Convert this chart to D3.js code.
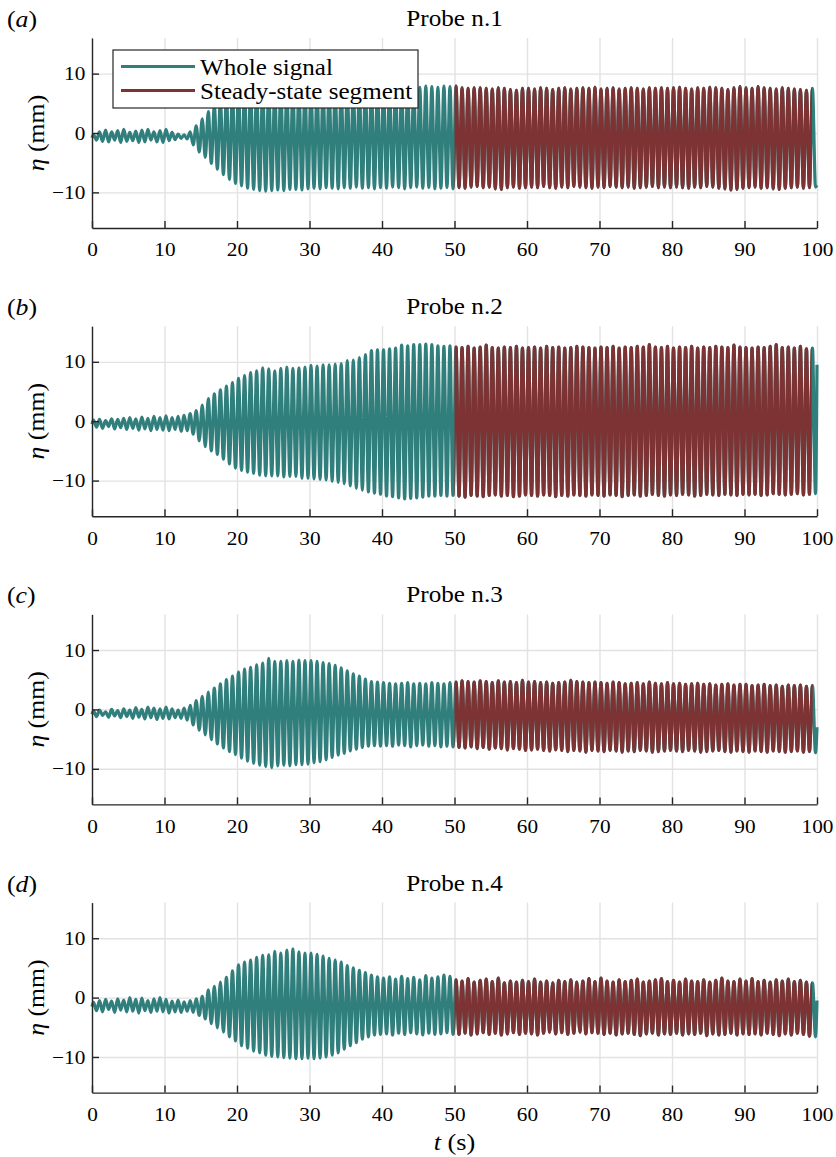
<!DOCTYPE html>
<html>
<head>
<meta charset="utf-8">
<script src="https://cdn.jsdelivr.net/npm/d3@7/dist/d3.min.js"></script>
<style>
  html, body { margin: 0; padding: 0; background: #ffffff; }
  svg { display: block; }
  text { font-family: "Liberation Serif", "Times New Roman", Times, serif; fill: #000; }
</style>
</head>
<body>
<svg id="fig" width="836" height="1157"></svg>
<script>
// ---- data -------------------------------------------------------------
// Free-surface elevation eta (mm) at four probes, stored as the crest and
// trough value of every wave cycle (12 cycles per 10 s row, 0..100 s).
const cyclePeriod = 100 / 120;           // s
const timeDomain = [0, 100];
const etaDomain = [-16, 16];
const xTicks = [0, 10, 20, 30, 40, 50, 60, 70, 80, 90, 100];
const yTicks = [-10, 0, 10];
const panelLetters = ["a", "b", "c", "d"];
const panelTitles = ["Probe n.1", "Probe n.2", "Probe n.3", "Probe n.4"];
const legendLabels = ["Whole signal", "Steady-state segment"];
const steadyStart = [50, 50, 50, 50];
const steadyEnd = [99.3, 99.25, 99.4, 99.3];
const startValues = [-0.8, -0.5, -0.8, -1.5];
const endValues = [-8.8, 9.5, -3.0, -0.5];

const probe1Crests = [
  -0.3, 0.2, 0.5, 0.2, 0.4, 0.6, 0.1, 0.3, 0.5, 0.6, 0.2, 0.4,
  0.6, 0.1, -0.2, -0.3, 0.2, 1.2, 2.4, 3.6, 4.6, 5.5, 6.2, 6.8,
  7.2, 7.5, 7.6, 7.7, 7.8, 7.7, 7.6, 7.7, 7.6, 7.5, 7.6, 7.5,
  7.6, 7.5, 7.7, 7.6, 7.5, 7.6, 7.7, 7.6, 7.5, 7.6, 7.7, 7.6,
  7.7, 7.6, 7.8, 7.7, 7.6, 7.8, 7.7, 7.9, 7.8, 7.7, 7.9, 7.8,
  7.9, 7.6, 7.5, 7.6, 7.6, 7.5, 7.4, 7.6, 7.5, 7.3, 7.2, 7.5,
  7.5, 7.4, 7.6, 7.5, 7.3, 7.5, 7.6, 7.4, 7.5, 7.6, 7.5, 7.7,
  7.4, 7.5, 7.6, 7.4, 7.5, 7.6, 7.5, 7.4, 7.6, 7.5, 7.6, 7.5,
  7.6, 7.7, 7.5, 7.4, 7.6, 7.5, 7.7, 7.6, 7.5, 7.3, 7.6, 7.8,
  7.6, 7.5, 7.8, 7.6, 7.5, 7.4, 7.6, 7.5, 7.4, 7.3, 7.2, 7.5
];
const probe1Troughs = [
  -1.2, -1.4, -1.5, -1.2, -1.6, -1.4, -1.3, -1.6, -1.5, -1.2, -1.5, -1.6,
  -1.3, -1.1, -0.9, -1.0, -2.0, -3.2, -4.1, -5.1, -6.1, -7.0, -7.8, -8.5,
  -8.9, -9.3, -9.5, -9.7, -9.8, -9.7, -9.6, -9.7, -9.5, -9.5, -9.6, -9.4,
  -9.3, -9.4, -9.2, -9.3, -9.4, -9.2, -9.3, -9.1, -9.3, -9.2, -9.4, -9.2,
  -9.3, -9.1, -9.2, -9.4, -9.2, -9.1, -9.3, -9.2, -9.4, -9.3, -9.2, -9.4,
  -9.2, -9.3, -9.1, -9.0, -9.2, -9.1, -9.4, -9.5, -9.2, -9.1, -9.3, -9.2,
  -9.1, -9.2, -9.0, -9.2, -9.3, -9.1, -9.2, -9.0, -9.1, -9.2, -9.3, -9.1,
  -9.2, -9.0, -9.1, -9.2, -9.1, -9.3, -9.2, -9.1, -9.0, -9.2, -9.1, -9.2,
  -9.1, -9.2, -9.3, -9.1, -9.2, -9.0, -9.1, -9.3, -9.4, -9.6, -9.5, -9.3,
  -9.2, -9.1, -9.3, -9.2, -9.4, -9.5, -9.3, -9.2, -9.1, -9.3, -9.2, -9.1
];

const probe2Crests = [
  0.2, 0.3, 0.1, 0.4, 0.3, 0.5, 0.6, 0.4, 0.7, 0.5, 0.8, 0.6,
  0.9, 0.6, 0.8, 1.0, 1.3, 1.8, 2.7, 3.8, 4.6, 5.3, 5.9, 6.5,
  7.2, 7.7, 8.2, 8.5, 9.0, 8.8, 8.5, 8.9, 9.1, 8.9, 9.0, 9.1,
  9.4, 9.3, 9.5, 9.5, 9.6, 9.7, 10.2, 10.3, 10.7, 11.2, 11.9, 12.0,
  12.0, 12.2, 12.3, 12.8, 12.7, 12.9, 12.9, 13.0, 12.9, 12.7, 12.6, 12.7,
  12.5, 12.4, 12.6, 12.3, 12.5, 12.8, 12.4, 12.3, 12.5, 12.4, 12.6, 12.3,
  12.4, 12.5, 12.3, 12.6, 12.4, 12.5, 12.3, 12.4, 12.6, 12.5, 12.4, 12.3,
  12.5, 12.4, 12.6, 12.3, 12.5, 12.4, 12.6, 12.5, 12.9, 12.5, 12.4, 12.6,
  12.3, 12.5, 12.4, 12.6, 12.3, 12.5, 12.4, 12.6, 12.5, 12.4, 12.8, 12.5,
  12.4, 12.3, 12.5, 12.4, 12.6, 12.9, 12.4, 12.5, 12.3, 12.6, 12.2, 12.3
];
const probe2Troughs = [
  -1.0, -1.2, -0.9, -1.3, -1.1, -1.4, -1.2, -1.5, -1.3, -1.6, -1.4, -1.5,
  -1.6, -1.4, -1.7, -1.6, -2.2, -3.3, -4.3, -5.0, -5.6, -6.4, -7.2, -7.9,
  -8.3, -8.6, -8.8, -9.1, -9.2, -9.2, -9.2, -9.4, -9.3, -9.3, -9.6, -9.6,
  -9.7, -9.8, -9.9, -10.1, -10.3, -10.5, -10.9, -11.3, -11.6, -11.9, -12.1, -12.3,
  -12.6, -12.7, -12.9, -13.1, -13.0, -12.9, -12.8, -12.6, -12.6, -12.5, -12.6, -12.5,
  -12.6, -12.8, -12.5, -12.6, -12.7, -12.5, -12.4, -12.6, -12.5, -12.7, -12.6, -12.4,
  -12.5, -12.6, -12.4, -12.5, -12.7, -12.5, -12.6, -12.4, -12.5, -12.6, -12.4, -12.5,
  -12.6, -12.4, -12.5, -12.7, -12.5, -12.4, -12.6, -12.5, -12.3, -12.5, -12.6, -12.4,
  -12.5, -12.3, -12.4, -12.6, -12.5, -12.3, -12.4, -12.5, -12.3, -12.4, -12.5, -12.3,
  -12.4, -12.3, -12.5, -12.4, -12.2, -12.3, -12.4, -12.3, -12.2, -12.4, -12.3, -12.2
];

const probe3Crests = [
  -0.3, -0.1, -0.4, 0.0, -0.2, 0.1, -0.1, 0.3, 0.0, 0.4, 0.2, 0.1,
  0.4, 0.1, -0.1, 0.2, 0.7, 1.5, 2.2, 2.9, 3.6, 4.3, 5.0, 5.6,
  6.3, 6.8, 7.1, 7.5, 7.8, 8.6, 8.1, 8.1, 8.2, 8.1, 8.3, 8.2,
  8.2, 8.1, 7.9, 7.7, 7.4, 7.0, 6.5, 6.0, 5.6, 5.1, 4.7, 4.6,
  4.5, 4.4, 4.3, 4.4, 4.5, 4.3, 4.4, 4.3, 4.5, 4.4, 4.3, 4.5,
  4.6, 4.8, 4.7, 4.6, 4.8, 4.7, 4.5, 4.8, 4.6, 4.7, 4.5, 4.9,
  4.6, 4.7, 4.5, 4.6, 4.4, 4.5, 4.6, 4.9, 4.7, 4.6, 4.5, 4.6,
  4.5, 4.4, 4.6, 4.5, 4.3, 4.4, 4.5, 4.3, 4.6, 4.4, 4.3, 4.5,
  4.3, 4.4, 4.2, 4.3, 4.4, 4.2, 4.3, 4.1, 4.2, 4.3, 4.1, 4.2,
  4.2, 4.0, 4.1, 4.2, 4.0, 4.1, 3.9, 4.1, 4.0, 4.1, 3.9, 4.0
];
const probe3Troughs = [
  -1.2, -1.0, -1.3, -1.1, -1.4, -1.2, -1.5, -1.3, -1.6, -1.4, -1.7, -1.5,
  -1.6, -1.4, -1.5, -1.8, -2.6, -3.5, -4.3, -5.1, -5.8, -6.5, -7.1, -7.6,
  -8.2, -8.7, -9.1, -9.4, -9.6, -9.8, -9.5, -9.4, -9.5, -9.3, -9.3, -9.2,
  -9.0, -8.8, -8.5, -8.1, -7.7, -7.4, -7.0, -6.7, -6.4, -6.2, -6.1, -6.2,
  -6.1, -6.2, -6.0, -6.1, -6.3, -6.1, -6.0, -6.2, -6.1, -6.3, -6.2, -6.3,
  -6.4, -6.5, -6.3, -6.6, -6.4, -6.7, -6.5, -6.6, -6.8, -6.6, -6.7, -6.9,
  -6.8, -6.7, -6.9, -7.0, -6.8, -6.9, -7.1, -6.9, -7.0, -7.2, -6.9, -7.0,
  -7.1, -6.9, -7.0, -7.2, -7.0, -7.1, -6.9, -7.0, -7.2, -7.1, -7.0, -6.9,
  -7.0, -7.1, -6.9, -7.0, -7.2, -7.1, -7.0, -6.9, -7.1, -7.2, -7.0, -7.1,
  -7.2, -7.0, -7.1, -7.2, -7.0, -7.1, -7.2, -7.1, -7.0, -7.2, -7.1, -7.3
];

const probe4Crests = [
  -0.8, -0.5, -0.3, -0.6, -0.2, -0.4, 0.0, -0.3, -0.1, -0.5, -0.2, 0.0,
  -0.3, -0.6, -0.4, -0.7, -0.5, -0.2, 0.2, 1.3, 1.9, 2.6, 3.4, 4.5,
  5.5, 6.0, 6.3, 6.8, 7.1, 7.2, 7.8, 7.5, 8.0, 8.2, 7.7, 7.5,
  7.5, 7.3, 7.0, 6.6, 6.3, 6.0, 5.4, 5.0, 4.6, 4.2, 3.8, 3.5,
  3.3, 3.5, 3.1, 3.6, 3.2, 3.4, 3.0, 3.7, 3.3, 3.5, 3.8, 3.6,
  3.0, 2.8, 3.2, 2.6, 2.9, 3.1, 2.7, 3.3, 2.5, 2.8, 2.6, 2.9,
  2.7, 3.1, 2.6, 2.8, 2.5, 2.9, 2.7, 3.0, 2.6, 2.8, 3.2, 2.7,
  3.3, 2.8, 2.6, 3.0, 2.7, 2.9, 3.1, 2.6, 2.8, 3.0, 3.2, 2.7,
  2.9, 2.6, 3.1, 2.8, 2.7, 3.0, 2.6, 2.9, 3.3, 2.8, 2.7, 3.1,
  2.8, 3.2, 2.7, 2.9, 2.6, 3.0, 2.8, 3.1, 2.7, 2.9, 2.6, 2.5
];
const probe4Troughs = [
  -2.2, -2.4, -2.0, -2.5, -2.1, -2.4, -2.3, -2.6, -2.2, -2.5, -2.3, -2.4,
  -2.6, -2.4, -2.5, -2.3, -2.5, -3.0, -3.6, -4.4, -5.1, -5.8, -6.6, -7.3,
  -8.1, -8.5, -9.0, -9.3, -9.7, -9.9, -10.0, -10.1, -10.2, -10.3, -10.3, -10.2,
  -10.3, -10.2, -10.0, -9.7, -9.3, -8.7, -8.1, -7.6, -7.0, -6.6, -6.3, -6.2,
  -6.1, -6.3, -6.0, -6.2, -5.9, -6.1, -6.3, -6.0, -6.2, -6.1, -5.9, -6.2,
  -6.2, -6.0, -6.3, -6.1, -5.9, -6.2, -6.0, -6.3, -6.1, -5.9, -6.2, -6.0,
  -6.1, -6.3, -6.0, -5.8, -6.1, -5.9, -6.2, -6.0, -5.8, -6.1, -5.9, -6.0,
  -6.2, -6.0, -6.3, -6.1, -6.0, -6.2, -6.4, -6.1, -6.0, -6.3, -6.1, -6.2,
  -6.0, -6.3, -6.1, -6.2, -6.0, -6.4, -6.1, -6.3, -6.2, -6.0, -6.3, -6.1,
  -6.2, -6.1, -6.3, -6.0, -6.2, -6.4, -6.1, -6.3, -6.0, -6.2, -6.5, -6.6
];

const crestSets = [probe1Crests, probe2Crests, probe3Crests, probe4Crests];
const troughSets = [probe1Troughs, probe2Troughs, probe3Troughs, probe4Troughs];

// ---- layout & style ---------------------------------------------------
const colWhole = "#307f7c";
const colSteady = "#7d3233";
const axisColor = "#262626";
const gridColor = "#e2e2e2";
const left = 92, right = 817;
const firstTop = 38, panelStep = 288.2, plotH = 190;
const signalWidth = 3.2;
const textStretch = 1.12;   // serif glyphs are drawn slightly wide

const svg = d3.select("#fig");
const x = d3.scaleLinear().domain(timeDomain).range([left, right]);

// one wave record: start point, crest/trough of each cycle, end point
function waveRecord(k) {
  const pts = [{ t: timeDomain[0], v: startValues[k] }];
  crestSets[k].forEach((c, i) => {
    pts.push({ t: (i + 0.25) * cyclePeriod, v: c });
    pts.push({ t: (i + 0.75) * cyclePeriod, v: troughSets[k][i] });
  });
  pts.push({ t: timeDomain[1], v: endValues[k] });
  return pts;
}

function stretchedText(g, px, py, size, anchor, rotate, stretch = textStretch) {
  const tr = `translate(${px},${py})` + (rotate ? ` rotate(${rotate})` : "") + ` scale(${stretch},1)`;
  return g.append("text")
    .attr("transform", tr)
    .attr("font-size", size)
    .attr("text-anchor", anchor);
}

const defs = svg.append("defs");

panelTitles.forEach((title, k) => {
  const top = firstTop + k * panelStep;
  const bottom = top + plotH;
  const y = d3.scaleLinear().domain(etaDomain).range([bottom, top]);
  const g = svg.append("g");

  // grid
  g.append("g")
    .attr("transform", `translate(0,${top})`)
    .call(d3.axisBottom(x).tickValues(xTicks).tickSize(plotH).tickFormat(""))
    .call(s => s.select(".domain").remove())
    .call(s => s.selectAll("line").attr("stroke", gridColor).attr("stroke-width", 1.4));
  g.append("g")
    .attr("transform", `translate(${left},0)`)
    .call(d3.axisRight(y).tickValues(yTicks).tickSize(right - left).tickFormat(""))
    .call(s => s.select(".domain").remove())
    .call(s => s.selectAll("line").attr("stroke", gridColor).attr("stroke-width", 1.4));

  // signal: whole record, then the steady-state window on top
  const rec = waveRecord(k);
  const line = d3.line().x(d => x(d.t)).y(d => y(d.v)).curve(d3.curveMonotoneX);
  g.append("path")
    .attr("d", line(rec))
    .attr("fill", "none")
    .attr("stroke", colWhole)
    .attr("stroke-width", signalWidth)
    .attr("stroke-linejoin", "round");

  const clipId = `steady-${panelLetters[k]}`;
  defs.append("clipPath").attr("id", clipId)
    .append("rect")
    .attr("x", x(steadyStart[k]))
    .attr("y", top - 5)
    .attr("width", x(steadyEnd[k]) - x(steadyStart[k]))
    .attr("height", plotH + 10);
  g.append("path")
    .attr("d", line(rec))
    .attr("clip-path", `url(#${clipId})`)
    .attr("fill", "none")
    .attr("stroke", colSteady)
    .attr("stroke-width", signalWidth)
    .attr("stroke-linejoin", "round");

  // axes
  const yAxis = g.append("g")
    .attr("transform", `translate(${left},0)`)
    .call(d3.axisLeft(y).tickValues(yTicks).tickSizeInner(-7).tickSizeOuter(0).tickPadding(6));
  const xAxis = g.append("g")
    .attr("transform", `translate(0,${bottom})`)
    .call(d3.axisBottom(x).tickValues(xTicks).tickSizeInner(-7).tickSizeOuter(0).tickPadding(15));
  [yAxis, xAxis].forEach(a => {
    a.attr("font-family", null);
    a.select(".domain").attr("stroke", axisColor).attr("stroke-width", 1.4);
    a.selectAll(".tick line").attr("stroke", axisColor).attr("stroke-width", 1.4);
    a.selectAll(".tick text")
      .attr("font-size", 19)
      .attr("fill", "#000")
      .attr("transform", `scale(${textStretch},1)`);
  });

  // title and panel letter
  stretchedText(g, (left + right) / 2, top - 12, 22.5, "middle").text(title);
  const lab = stretchedText(g, 7, top - 11, 23, "start");
  lab.append("tspan").text("(");
  lab.append("tspan").attr("font-style", "italic").text(panelLetters[k]);
  lab.append("tspan").text(")");

  // y label
  const yl = stretchedText(g, 44, (top + bottom) / 2, 23, "middle", -90);
  yl.append("tspan").attr("font-style", "italic").text("η");
  yl.append("tspan").text(" (mm)");

  // legend (first panel only)
  if (k === 0) {
    const lg = g.append("g");
    lg.append("rect")
      .attr("x", 113).attr("y", top + 12)
      .attr("width", 305).attr("height", 58)
      .attr("fill", "#fff").attr("stroke", axisColor).attr("stroke-width", 1.2);
    [colWhole, colSteady].forEach((c, i) => {
      const ly = top + 28.5 + i * 24;
      lg.append("line")
        .attr("x1", 121).attr("x2", 195)
        .attr("y1", ly).attr("y2", ly)
        .attr("stroke", c).attr("stroke-width", 3);
      stretchedText(lg, 200, ly + 8, 23, "start", 0, 1.09).text(legendLabels[i]);
    });
  }

  // x label under the last panel
  if (k === panelTitles.length - 1) {
    const xl = stretchedText(g, (left + right) / 2, bottom + 57, 23.5, "middle");
    xl.append("tspan").attr("font-style", "italic").text("t");
    xl.append("tspan").text(" (s)");
  }
});
</script>
</body>
</html>
